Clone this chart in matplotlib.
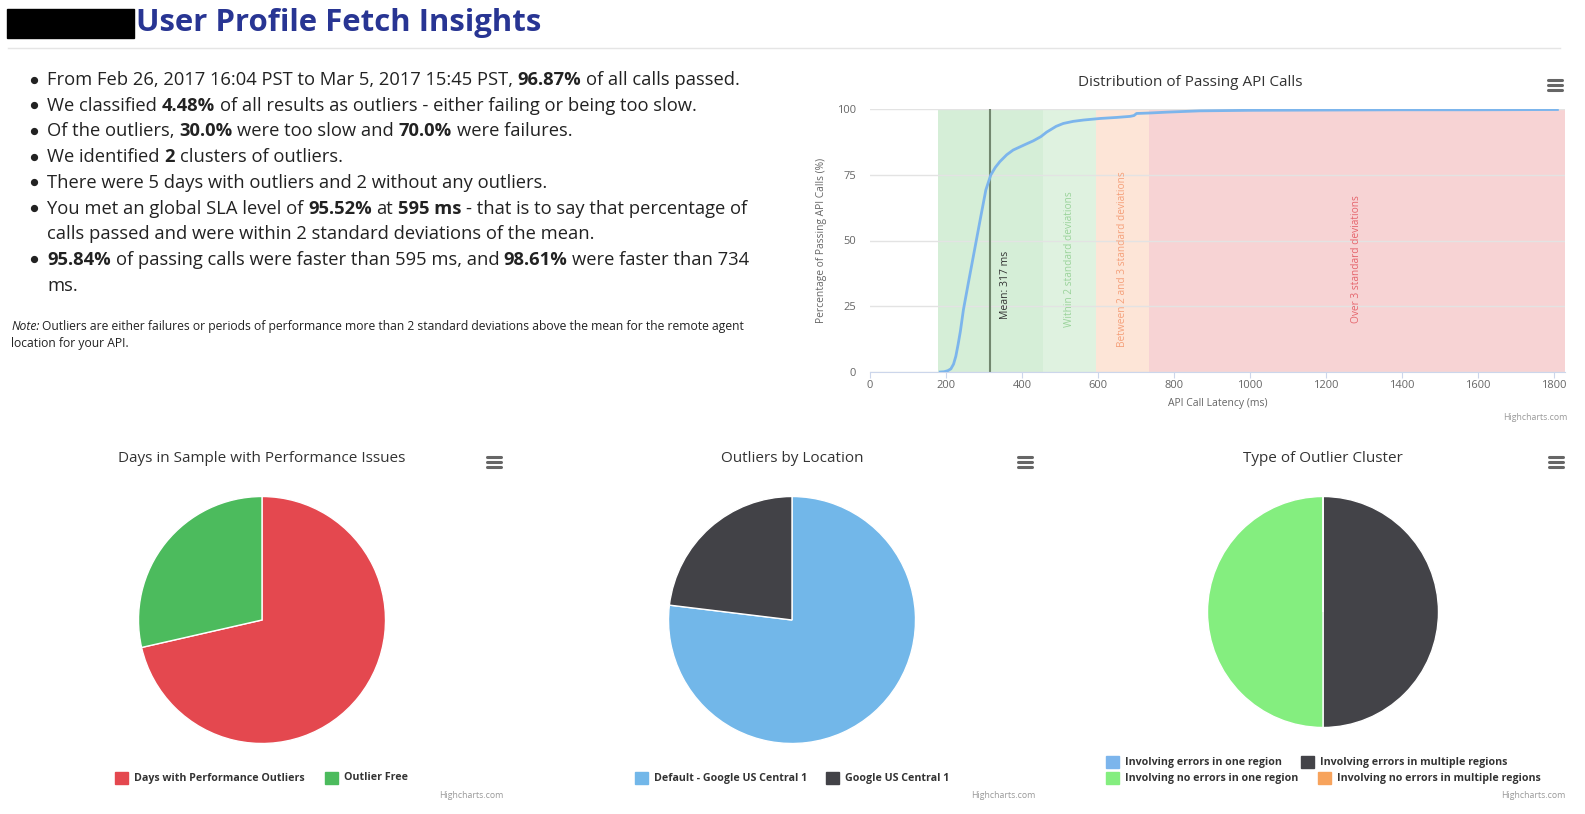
import matplotlib
matplotlib.use("Agg")
import matplotlib.pyplot as plt
from matplotlib.patches import Rectangle
from matplotlib.lines import Line2D

# ---------------- data ----------------
title = "User Profile Fetch Insights"

bullets = [
    [("From Feb 26, 2017 16:04 PST to Mar 5, 2017 15:45 PST,", "normal"), ("96.87%", "bold"), ("of all calls passed.", "normal")],
    [("We classified", "normal"), ("4.48%", "bold"), ("of all results as outliers - either failing or being too slow.", "normal")],
    [("Of the outliers,", "normal"), ("30.0%", "bold"), ("were too slow and", "normal"), ("70.0%", "bold"), ("were failures.", "normal")],
    [("We identified", "normal"), ("2", "bold"), ("clusters of outliers.", "normal")],
    [("There were 5 days with outliers and 2 without any outliers.", "normal")],
    [("You met an global SLA level of", "normal"), ("95.52%", "bold"), ("at", "normal"), ("595 ms", "bold"), ("- that is to say that percentage of", "normal")],
    [("calls passed and were within 2 standard deviations of the mean.", "normal")],
    [("95.84%", "bold"), ("of passing calls were faster than 595 ms, and", "normal"), ("98.61%", "bold"), ("were faster than 734", "normal")],
    [("ms.", "normal")],
]
bullet_marks = [True, True, True, True, True, True, False, True, False]

note_lines = [
    [("Note:", "italic"), ("Outliers are either failures or periods of performance more than 2 standard deviations above the mean for the remote agent", "normal")],
    [("location for your API.", "normal")],
]

# CDF of passing calls
latency = [185, 195, 205, 213, 220, 226, 232, 238, 246, 259, 272, 290, 305, 318, 330, 342, 360, 377, 395,
           410, 430, 450, 465, 490, 509, 535, 562, 606, 650, 685, 695, 702, 740, 781, 869, 1001, 1200, 1400, 1600, 1810]
pct_passing = [0, 0.1, 0.5, 1.2, 3.0, 6.0, 10.5, 15.5, 23.7, 33.9, 43.9, 57.8, 69.2, 74.9, 77.8, 80.0, 82.6, 84.4, 85.6,
               86.6, 87.9, 89.5, 91.2, 93.4, 94.5, 95.3, 95.8, 96.4, 96.8, 97.2, 97.5, 98.3, 98.5, 98.8, 99.3, 99.5, 99.6, 99.7, 99.7, 99.8]
mean_ms = 317
bands = [(178, 456, "#d5eed7"), (456, 595, "#dff2e0"), (595, 734, "#fde5d7"), (734, 1830, "#f7d3d4")]
band_labels = [("Within 2 standard deviations", 525, "#9ad39a"),
               ("Between 2 and 3 standard deviations", 664, "#f5a07a"),
               ("Over 3 standard deviations", 1282, "#e5646c")]
x_ticks = list(range(0, 1801, 200))
y_ticks = [0, 25, 50, 75, 100]

pie1_title = "Days in Sample with Performance Issues"
pie1_labels = ["Days with Performance Outliers", "Outlier Free"]
pie1_values = [5, 2]
pie1_colors = ["#e4484f", "#4cbb5d"]

pie2_title = "Outliers by Location"
pie2_labels = ["Default - Google US Central 1", "Google US Central 1"]
pie2_values = [10, 3]
pie2_colors = ["#72b7e9", "#424247"]

pie3_title = "Type of Outlier Cluster"
pie3_labels = ["Involving errors in one region", "Involving errors in multiple regions",
               "Involving no errors in one region", "Involving no errors in multiple regions"]
pie3_values = [0, 1, 1, 0]
pie3_colors = ["#7cb5ec", "#434348", "#84ee7f", "#f7a35c"]

# ---------------- figure ----------------
W, H = 1585, 814
fig = plt.figure(figsize=(W / 100, H / 100), dpi=100)
FONT = "Open Sans"
renderer = fig.canvas.get_renderer()


def fx(px):
    return px / W


def fy(py):
    return 1 - py / H


def ftext(x, y, s, **kw):
    kw.setdefault("family", FONT)
    return fig.text(fx(x), fy(y), s, **kw)


def text_w(s, size, weight="normal", style="normal"):
    t = fig.text(0, 0, s, fontsize=size, family=FONT, fontweight=weight, fontstyle=style)
    w = t.get_window_extent(renderer).width
    t.remove()
    return w


def rich_line(x, y, segs, size, color="#222222"):
    sp = text_w("a a", size) - text_w("aa", size)
    for i, (s, kind) in enumerate(segs):
        weight = "bold" if kind == "bold" else "normal"
        style = "italic" if kind == "italic" else "normal"
        t = ftext(x, y, s, fontsize=size, fontweight=weight, fontstyle=style,
                  color=color, va="baseline", ha="left")
        x += t.get_window_extent(renderer).width + sp


def hamburger(cx, cy):
    for dy in (-5, 0, 5):
        fig.add_artist(Line2D([fx(cx - 7), fx(cx + 7)], [fy(cy + dy), fy(cy + dy)],
                              color="#666666", lw=2.2, solid_capstyle="round"))


# header
fig.add_artist(Rectangle((fx(7), fy(38)), fx(134) - fx(7), fy(9) - fy(38), color="black"))
ftext(136, 23, title, fontsize=22.4, fontweight="bold", color="#283593", va="center", ha="left")
fig.add_artist(Line2D([fx(8), fx(1560)], [fy(48), fy(48)], color="#e5e5e5", lw=1))

# bullets
base = 85
for i, (segs, mark) in enumerate(zip(bullets, bullet_marks)):
    y = base + i * 25.7
    if mark:
        fig.add_artist(Line2D([fx(34)], [fy(y - 5.5)], marker="o", markersize=4.2,
                              color="#222222", linestyle="none"))
    rich_line(47, y, segs, 13.2)

for i, segs in enumerate(note_lines):
    rich_line(11, 330 + i * 16.5, segs, 8.7)

# ---------------- line chart ----------------
L, R, T, B = 870, 1565, 109, 372
ax = fig.add_axes([fx(L), fy(B), fx(R) - fx(L), fy(T) - fy(B)])
ax.set_xlim(0, 1830)
ax.set_ylim(0, 100)
for x0, x1, c in bands:
    ax.axvspan(x0, x1, color=c, lw=0, zorder=0.2)
ax.set_axisbelow(True)
ax.set_yticks(y_ticks)
ax.set_xticks(x_ticks)
ax.yaxis.grid(True, color="#e3e3e3", lw=1)
for s in ("top", "right", "left"):
    ax.spines[s].set_visible(False)
ax.spines["bottom"].set_color("#ccd6eb")
ax.tick_params(axis="y", length=0, pad=10, labelsize=8, labelcolor="#666666")
ax.tick_params(axis="x", length=4, color="#ccd6eb", pad=2, labelsize=8, labelcolor="#666666")
for lab in ax.get_xticklabels() + ax.get_yticklabels():
    lab.set_family(FONT)
ax.axvline(mean_ms, color="#72876f", lw=1.5, zorder=1)
ax.text(mean_ms + 40, 33, f"Mean: {mean_ms} ms", rotation=90, ha="center", va="center",
        fontsize=7.5, color="#333333", family=FONT)
for s, xm, c in band_labels:
    ax.text(xm, 43, s, rotation=90, ha="center", va="center", fontsize=7.3, color=c, family=FONT)
ax.plot(latency, pct_passing, color="#7cb5ec", lw=2, zorder=3, solid_joinstyle="round")
ax.set_xlabel("API Call Latency (ms)", fontsize=7.5, color="#666666", family=FONT, labelpad=5)
ax.set_ylabel("Percentage of Passing API Calls (%)", fontsize=7.4, color="#666666", family=FONT, labelpad=7)

ftext(1190, 82, "Distribution of Passing API Calls", fontsize=11, color="#333333", va="center", ha="center")
hamburger(1555, 85)
ftext(1567, 418, "Highcharts.com", fontsize=6.3, color="#999999", va="center", ha="right")


# ---------------- pies ----------------
def pie_chart(cx, cy, d, values, colors, ttl, tx, ham_x, credit_x):
    r = d / 2
    a = fig.add_axes([fx(cx - r), fy(cy + r), d / W, d / H])
    a.pie(values, colors=colors, startangle=90, counterclock=False,
          wedgeprops=dict(edgecolor="white", linewidth=1))
    a.set_xlim(-1, 1)
    a.set_ylim(-1, 1)
    a.set_aspect("equal")
    ftext(tx, 459, ttl, fontsize=11, color="#333333", va="center", ha="center")
    hamburger(ham_x, 462)
    ftext(credit_x, 795, "Highcharts.com", fontsize=6.3, color="#999999", va="center", ha="right")


def legend_item(x, y, color, label):
    fig.add_artist(Rectangle((fx(x), fy(y + 6)), 13 / W, 12 / H, color=color))
    ftext(x + 19, y, label, fontsize=7.7, fontweight="bold", color="#333333", va="center", ha="left")


pie_chart(262, 620, 247, pie1_values, pie1_colors, pie1_title, 262, 494, 503)
legend_item(115, 778, pie1_colors[0], pie1_labels[0])
legend_item(325, 778, pie1_colors[1], pie1_labels[1])

pie_chart(792, 620, 247, pie2_values, pie2_colors, pie2_title, 792, 1025, 1035)
legend_item(635, 778, pie2_colors[0], pie2_labels[0])
legend_item(826, 778, pie2_colors[1], pie2_labels[1])

pie_chart(1323, 612, 231, pie3_values, pie3_colors, pie3_title, 1323, 1556, 1566)
legend_item(1106, 762, pie3_colors[0], pie3_labels[0])
legend_item(1301, 762, pie3_colors[1], pie3_labels[1])
legend_item(1106, 778, pie3_colors[2], pie3_labels[2])
legend_item(1318, 778, pie3_colors[3], pie3_labels[3])

fig.savefig("out.png", dpi=100, facecolor="white")
